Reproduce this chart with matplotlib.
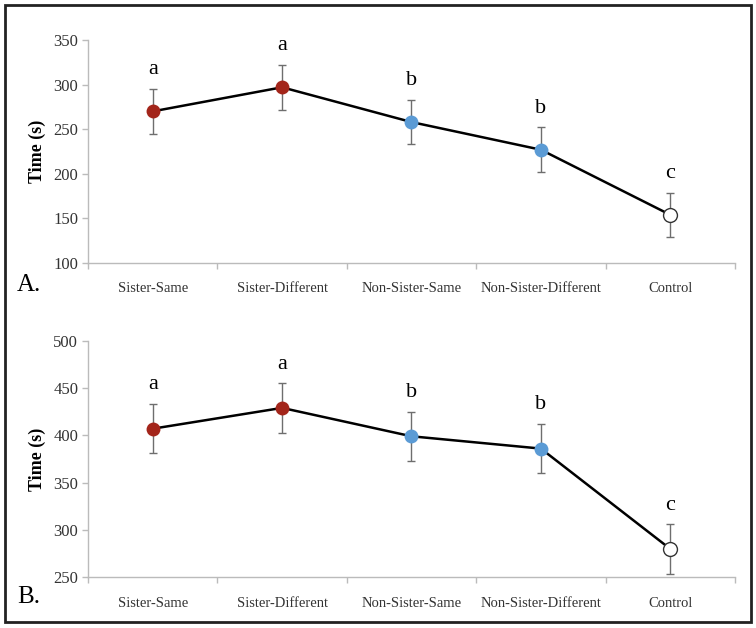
import numpy as np
import matplotlib
matplotlib.use('Agg')
import matplotlib.pyplot as plt
from matplotlib.patches import Rectangle

plt.rcParams['font.family'] = ['Liberation Serif', 'DejaVu Serif']

categories = ['Sister-Same', 'Sister-Different', 'Non-Sister-Same', 'Non-Sister-Different', 'Control']
letters = ['a', 'a', 'b', 'b', 'c']

# panel A
time_a = [270, 297, 258, 227, 154]
err_a = [25, 25, 25, 25, 25]
# panel B
time_b = [407, 429, 399, 386, 280]
err_b = [26, 26, 26, 26, 26]

face_colors = ['#A3251A', '#A3251A', '#5B9BD5', '#5B9BD5', 'white']
edge_colors = ['#A3251A', '#A3251A', '#5B9BD5', '#5B9BD5', '#333333']

def draw_panel(ax, vals, errs, ylim, yticks):
    x = np.arange(len(categories))
    ax.errorbar(x, vals, yerr=errs, fmt='none', ecolor='#6E6E6E', elinewidth=1.0,
                capsize=3, capthick=1.0, zorder=2)
    ax.plot(x, vals, color='black', lw=1.8, zorder=3)
    for i in range(len(x)):
        ax.plot(x[i], vals[i], 'o', ms=10, mfc=face_colors[i], mec=edge_colors[i],
                mew=1.0 if i == 4 else 0, zorder=4)
        ax.annotate(letters[i], (x[i], vals[i] + errs[i]), xytext=(0, 7),
                    textcoords='offset points', ha='center', va='bottom',
                    fontsize=16, color='black')
    ax.set_xlim(-0.5, len(categories) - 0.5)
    ax.set_ylim(*ylim)
    ax.set_yticks(yticks)
    ax.set_xticks(x)
    ax.set_xticklabels(categories, fontsize=10.5, color='#333333')
    ax.set_xticks(np.arange(-0.5, len(categories), 1), minor=True)
    ax.tick_params(axis='x', which='major', length=0, pad=14)
    ax.tick_params(axis='x', which='minor', length=4, color='#BBBBBB', width=1)
    ax.tick_params(axis='y', length=4, color='#BBBBBB', width=1, labelsize=12,
                   labelcolor='#333333', pad=3)
    for s in ['top', 'right']:
        ax.spines[s].set_visible(False)
    for s in ['left', 'bottom']:
        ax.spines[s].set_color('#BBBBBB')
        ax.spines[s].set_linewidth(1)
    ax.set_ylabel('Time (s)', fontsize=13, fontweight='bold', labelpad=5)

fig = plt.figure(figsize=(7.56, 6.28), dpi=100)
ax1 = fig.add_axes([0.1164, 0.5812, 0.8558, 0.3551])
ax2 = fig.add_axes([0.1164, 0.0807, 0.8558, 0.3768])

draw_panel(ax1, time_a, err_a, (100, 350), [100, 150, 200, 250, 300, 350])
draw_panel(ax2, time_b, err_b, (250, 500), [250, 300, 350, 400, 450, 500])

fig.text(17 / 756, 1 - 285 / 628, 'A.', fontsize=18, ha='left', va='center')
fig.text(17 / 756, 1 - 597 / 628, 'B.', fontsize=18, ha='left', va='center')

fig.patches.append(Rectangle((0.007, 0.01), 0.987, 0.982, transform=fig.transFigure,
                             fill=False, edgecolor='#222222', lw=2))

fig.savefig('out.png', dpi=100)
